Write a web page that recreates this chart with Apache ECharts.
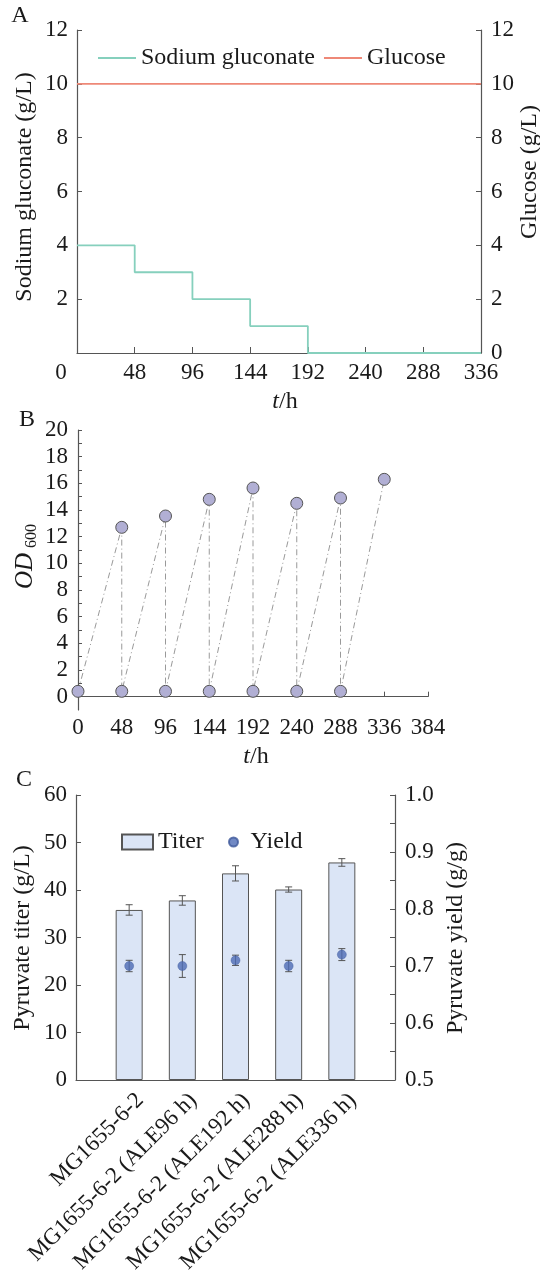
<!DOCTYPE html>
<html><head><meta charset="utf-8">
<script src="https://cdn.jsdelivr.net/npm/echarts@6/dist/echarts.min.js"></script>
<style>html,body{margin:0;padding:0;background:#fff}#c{width:540px;height:1275px}</style>
</head><body><div id="c"></div>
<script>
// ---------- Panel A ----------
const gluconateTimes = [0, 48, 96, 144, 192, 336];
const gluconateConc  = [4, 3, 2, 1, 0, 0];
const glucoseTimes   = [0, 336];
const glucoseConc    = [10, 10];
// ---------- Panel B ----------
const odLowTimes  = [0, 48, 96, 144, 192, 240, 288];
const odLow       = [0.4, 0.4, 0.4, 0.4, 0.4, 0.4, 0.4];
const odHighTimes = [48, 96, 144, 192, 240, 288, 336];
const odHigh      = [12.7, 13.55, 14.8, 15.65, 14.5, 14.9, 16.3];
const odLabelTicks = [0, 2, 4, 6, 8, 10, 12, 14, 16, 18, 20];
const odMinorTicks = [0,1,2,3,4,5,6,7,8,9,10,11,12,13,14,15,16,17,18,19,20];
// ---------- Panel C ----------
const strains  = ['MG1655-6-2', 'MG1655-6-2 (ALE96 h)', 'MG1655-6-2 (ALE192 h)', 'MG1655-6-2 (ALE288 h)', 'MG1655-6-2 (ALE336 h)'];
const titer    = [35.8, 37.8, 43.5, 40.1, 45.8];
const titerErr = [1.1, 1.0, 1.6, 0.55, 0.8];
const yieldVal = [0.70, 0.70, 0.71, 0.70, 0.72];
const yieldErr = [0.01, 0.02, 0.009, 0.01, 0.0105];

const FONT = 'Liberation Serif';
const TXT = '#1a1a1a';
const AX = '#555';
const FS = 23;

const chart = echarts.init(document.getElementById('c'), null, {renderer: 'canvas'});

const gluconateData = gluconateTimes.map((t, i) => [t, gluconateConc[i]]);
const glucoseData = glucoseTimes.map((t, i) => [t, glucoseConc[i]]);
const odPath = [];
for (let i = 0; i < odLowTimes.length; i++) {
  odPath.push([odLowTimes[i], odLow[i]]);
  odPath.push([odHighTimes[i], odHigh[i]]);
}
const categoriesC = [''].concat(strains, ['']);

const axLine = {show: true, lineStyle: {color: AX, width: 1.2}};
const lbl = (extra) => Object.assign({color: TXT, fontFamily: FONT, fontSize: FS}, extra || {});

function errRender(params, api) {
  const x = api.value(0);
  const lo = api.coord([x, api.value(1)]);
  const hi = api.coord([x, api.value(2)]);
  const w = 3.5;
  const st = {stroke: AX, lineWidth: 1};
  return {type: 'group', children: [
    {type: 'line', shape: {x1: lo[0], y1: lo[1], x2: hi[0], y2: hi[1]}, style: st},
    {type: 'line', shape: {x1: lo[0] - w, y1: lo[1], x2: lo[0] + w, y2: lo[1]}, style: st},
    {type: 'line', shape: {x1: hi[0] - w, y1: hi[1], x2: hi[0] + w, y2: hi[1]}, style: st}
  ]};
}

const option = {
  backgroundColor: '#fff',
  animation: false,
  textStyle: {fontFamily: FONT},
  grid: [
    {left: 77, top: 30, width: 404, height: 323, outerBoundsMode: 'none'},
    {left: 78, top: 430, width: 350, height: 280, outerBoundsMode: 'none'},
    {left: 76, top: 795, width: 319, height: 285, outerBoundsMode: 'none'}
  ],
  legend: [
    {gridIndex: 0, data: ['Sodium gluconate', 'Glucose'], left: 93, top: 41, icon: 'rect',
     itemWidth: 38, itemHeight: 2, itemGap: 9, selectedMode: false,
     textStyle: {fontFamily: FONT, fontSize: 24, color: TXT}},
    {data: ['Titer'], left: 116, top: 825, icon: 'rect', itemWidth: 31, itemHeight: 15,
     selectedMode: false, textStyle: {fontFamily: FONT, fontSize: 24, color: TXT}},
    {data: ['Yield'], left: 223, top: 825, icon: 'circle', itemWidth: 24, itemHeight: 9,
     selectedMode: false, textStyle: {fontFamily: FONT, fontSize: 24, color: TXT}}
  ],
  xAxis: [
    {gridIndex: 0, type: 'value', min: 0, max: 336, interval: 48,
     axisLine: axLine, axisTick: {inside: true, length: 6, lineStyle: {color: AX}},
     splitLine: {show: false},
     axisLabel: lbl({margin: 8, formatter: v => v === 0 ? '{z|0}' : String(v),
       rich: {z: {padding: [0, 32, 0, 0], fontFamily: FONT, fontSize: FS, color: TXT}}})},
    {gridIndex: 1, type: 'value', min: 0, max: 384, interval: 48,
     axisLine: axLine, axisTick: {inside: true, length: 5, lineStyle: {color: AX}},
     splitLine: {show: false}, axisLabel: lbl({margin: 6})},
    {gridIndex: 2, type: 'category', data: categoriesC, boundaryGap: false,
     axisLine: axLine, axisTick: {show: false},
     axisLabel: lbl({interval: 0, rotate: 45, verticalAlign: 'top', margin: 6, padding: [4, 0, 0, 0]})}
  ],
  yAxis: [
    {gridIndex: 0, type: 'value', min: 0, max: 12, interval: 2, position: 'left',
     axisLine: axLine, axisTick: {show: true, inside: true, length: 5, lineStyle: {color: AX}},
     splitLine: {show: false}, axisLabel: lbl({margin: 9, showMinLabel: false})},
    {gridIndex: 0, type: 'value', min: 0, max: 12, interval: 2, position: 'right',
     axisLine: axLine, axisTick: {show: true, inside: true, length: 5, lineStyle: {color: AX}},
     splitLine: {show: false}, axisLabel: lbl({margin: 10})},
    {gridIndex: 1, type: 'value', min: -1, max: 20, position: 'left',
     axisLine: axLine,
     axisTick: {show: true, inside: true, length: 4, customValues: odMinorTicks, lineStyle: {color: AX}},
     splitLine: {show: false}, axisLabel: lbl({margin: 10, customValues: odLabelTicks})},
    {gridIndex: 2, type: 'value', min: 0, max: 60, interval: 10, position: 'left',
     axisLine: axLine, axisTick: {show: true, inside: true, length: 5, lineStyle: {color: AX}},
     splitLine: {show: false}, axisLabel: lbl({margin: 9})},
    {gridIndex: 2, type: 'value', min: 0.5, max: 1.0, interval: 0.1, position: 'right',
     axisLine: axLine, axisTick: {show: true, inside: true, length: 5, lineStyle: {color: AX}},
     minorTick: {show: true, splitNumber: 2, length: 5, lineStyle: {color: AX}},
     splitLine: {show: false}, axisLabel: lbl({margin: 10, formatter: v => v.toFixed(1)})}
  ],
  series: [
    {name: 'Sodium gluconate', type: 'line', xAxisIndex: 0, yAxisIndex: 0, step: 'end',
     data: gluconateData, symbol: 'none', color: '#86d0bd', lineStyle: {color: '#86d0bd', width: 1.8}},
    {name: 'Glucose', type: 'line', xAxisIndex: 0, yAxisIndex: 1,
     data: glucoseData, symbol: 'none', color: '#ee8877', lineStyle: {color: '#ee8877', width: 1.8}},
    {name: 'OD600', type: 'line', xAxisIndex: 1, yAxisIndex: 2, data: odPath,
     symbol: 'circle', symbolSize: 12, clip: false,
     itemStyle: {color: '#b1afd4', borderColor: '#555', borderWidth: 1},
     lineStyle: {color: '#999', width: 1, type: [6, 3, 1, 3]}},
    {name: 'Titer', type: 'bar', xAxisIndex: 2, yAxisIndex: 3, barWidth: 27,
     data: ['-'].concat(titer, ['-']),
     itemStyle: {color: '#dbe5f6', borderColor: '#555', borderWidth: 1}},
    {name: 'TiterErr', type: 'custom', xAxisIndex: 2, yAxisIndex: 3, z: 5,
     data: titer.map((v, i) => [i + 1, v - titerErr[i], v + titerErr[i]]), renderItem: errRender},
    {name: 'YieldErr', type: 'custom', xAxisIndex: 2, yAxisIndex: 4, z: 5,
     data: yieldVal.map((v, i) => [i + 1, v - yieldErr[i], v + yieldErr[i]]), renderItem: errRender},
    {name: 'Yield', type: 'scatter', xAxisIndex: 2, yAxisIndex: 4, z: 6,
     data: yieldVal.map((v, i) => [i + 1, v]), symbolSize: 9,
     itemStyle: {color: '#4e6bb5', borderColor: '#3d579a', borderWidth: 0.5}}
  ],
  graphic: [
    {type: 'text', x: 20, y: 16, style: {text: 'A', font: '24px ' + FONT, fill: TXT, align: 'center', verticalAlign: 'middle'}},
    {type: 'text', x: 27, y: 420, style: {text: 'B', font: '24px ' + FONT, fill: TXT, align: 'center', verticalAlign: 'middle'}},
    {type: 'text', x: 24, y: 780, style: {text: 'C', font: '24px ' + FONT, fill: TXT, align: 'center', verticalAlign: 'middle'}},
    {type: 'text', x: 25, y: 187, rotation: Math.PI / 2,
     style: {text: 'Sodium gluconate (g/L)', font: '24px ' + FONT, fill: TXT, align: 'center', verticalAlign: 'middle'}},
    {type: 'text', x: 530, y: 172, rotation: Math.PI / 2,
     style: {text: 'Glucose (g/L)', font: '24px ' + FONT, fill: TXT, align: 'center', verticalAlign: 'middle'}},
    {type: 'text', x: 285, y: 402,
     style: {text: '{i|t}/h', font: '24px ' + FONT, fill: TXT, align: 'center', verticalAlign: 'middle',
       rich: {i: {fontStyle: 'italic', fontFamily: FONT, fontSize: 24}}}},
    {type: 'text', x: 256, y: 757,
     style: {text: '{i|t}/h', font: '24px ' + FONT, fill: TXT, align: 'center', verticalAlign: 'middle',
       rich: {i: {fontStyle: 'italic', fontFamily: FONT, fontSize: 24}}}},
    {type: 'text', x: 25, y: 571, rotation: Math.PI / 2,
     style: {text: 'OD', font: 'italic 25px ' + FONT, fill: TXT, align: 'center', verticalAlign: 'middle'}},
    {type: 'text', x: 32, y: 536, rotation: Math.PI / 2,
     style: {text: '600', font: '16px ' + FONT, fill: TXT, align: 'center', verticalAlign: 'middle'}},
    {type: 'text', x: 23, y: 938, rotation: Math.PI / 2,
     style: {text: 'Pyruvate titer (g/L)', font: '24px ' + FONT, fill: TXT, align: 'center', verticalAlign: 'middle'}},
    {type: 'text', x: 456, y: 938, rotation: Math.PI / 2,
     style: {text: 'Pyruvate yield (g/g)', font: '24px ' + FONT, fill: TXT, align: 'center', verticalAlign: 'middle'}}
  ]
};
chart.setOption(option);
</script></body></html>
